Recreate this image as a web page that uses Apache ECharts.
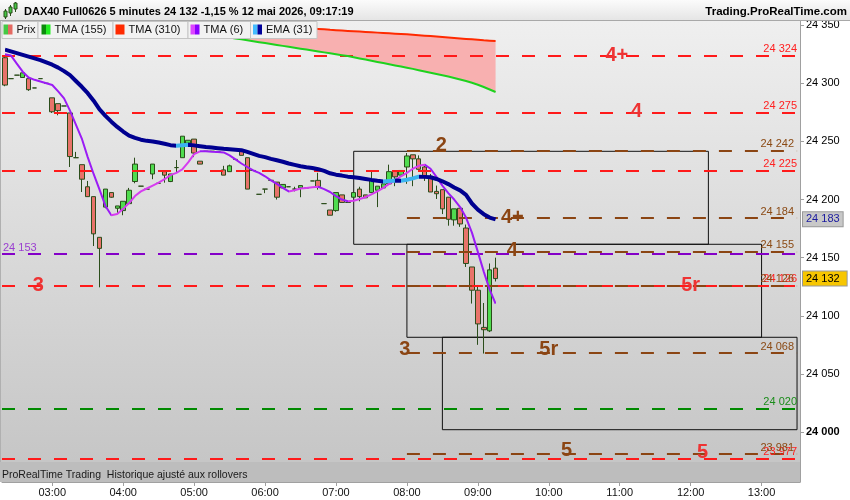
<!DOCTYPE html>
<html><head><meta charset="utf-8">
<script src="https://cdn.jsdelivr.net/npm/echarts@6/dist/echarts.min.js"></script>
<style>html,body{margin:0;padding:0;background:#fff}#c{width:850px;height:500px}</style>
</head><body><div id="c"></div>
<script>
// ---------- data ----------
const opens = [24322,24304,24307,24305,24304,24296,24304,24300,24287.5,24282.5,
24280.5,24274.5,24236,24230,24211,24202.5,24167.5,24193.5,24206,24192.5,
24190.5,24196.5,24215.5,24211.5,24209,24222,24214,24224,24215.5,24227.5,
24236,24248.5,24252,24233,24241.5,24241.5,24241,24225.5,24224,24234.5,
24242,24236,24225,24204.5,24209,24216.5,24215,24210,24211,24209,
24210,24210,24216,24216.5,24196.5,24191,24190.5,24204,24197.5,24202,
24209,24204,24206,24208,24210,24213.5,24224.5,24221,24228,24238.5,
24235,24228,24220,24207,24208.5,24202,24182.5,24192.5,24175.5,24142,
24122,24090,24087,24141];
const closes = [24298.5,24304,24307,24309,24294.5,24296,24304,24300,24275.5,24276.5,
24280.5,24237,24236,24217.5,24202.5,24170.5,24158,24209,24202,24194.5,
24198.5,24208,24230.5,24211.5,24209,24230.5,24214,24221,24222,24227.5,
24254.5,24251,24240,24230.5,24241.5,24241.5,24241,24221,24229,24234.5,
24238,24209,24225,24204.5,24209,24216.5,24202,24213,24211,24209,
24212,24210,24216,24211,24196.5,24186.5,24206,24197.5,24197.5,24206,
24202.5,24201.5,24216.5,24211.5,24213.5,24224,24219.5,24225,24237.5,24235,
24226,24219,24206.5,24205,24192,24183,24192,24179,24145,24122,
24093,24088,24139.5,24132];
const lows = [24297.5,24304,24307,24305,24293.5,24296,24304,24300,24274.5,24272.5,
24280.5,24228,24236,24206.5,24202.5,24160,24124.5,24192.5,24201.5,24188.5,
24186.5,24196.5,24214,24211.5,24209,24217.5,24214,24214.5,24215,24223,
24236,24248,24236.5,24230.5,24241.5,24241.5,24241,24221,24224,24234.5,
24238,24209,24225,24204.5,24205.5,24216.5,24200,24210,24211,24207,
24202,24210,24216,24208.5,24196.5,24186.5,24189.5,24197.5,24197.5,24202,
24198.5,24201.5,24206,24193.5,24210,24213.5,24211.5,24221,24213.5,24211.5,
24226,24216,24206.5,24200.5,24187.5,24177.5,24177.5,24176.5,24142,24110.5,
24075,24067.5,24086,24129.5];
const highs = [24324,24304,24307,24309,24304,24296,24304,24300,24287.5,24282.5,
24280.5,24274.5,24241,24230,24216,24202.5,24167.5,24209,24206,24194.5,
24198.5,24210,24236,24211.5,24209,24230.5,24214,24224,24222,24234,
24254.5,24251,24252,24233,24241.5,24241.5,24241,24229,24230,24234.5,
24242.5,24236,24225,24204.5,24209,24216.5,24215,24213,24211,24211,
24212,24210,24216,24223,24196.5,24191,24206,24204,24197.5,24206,
24211,24204,24224,24211.5,24213.5,24230,24224.5,24225,24240,24238.5,
24238,24230,24222,24212,24208.5,24202,24192,24192.5,24178.5,24142,
24126.5,24111,24145,24150];
const tma6 = [24325,24324,24317,24310,24305,24303,24301.5,24300,24298.5,24293,
24287,24276.5,24264.5,24252.5,24236.5,24222,24208.5,24194.5,24186.5,24187.5,
24192,24197,24203,24207,24209.5,24212,24214.5,24217.5,24221,24223,
24226,24232,24239,24241.5,24241.5,24241.2,24241,24240.5,24238,24234.5,
24231,24228,24225,24223,24220,24216.5,24213.5,24210,24207,24208,
24209.5,24210,24210.5,24211,24209,24206.5,24203,24200,24198.5,24199,
24200.5,24202,24204.5,24207,24210,24213.5,24216.5,24220,24223,24226.5,
24229,24230,24226.5,24219.5,24212,24205.5,24200,24193.5,24184.5,24171.5,
24155,24138,24122.5,24110.5];
const ema31 = [24329,24327.5,24326,24324.5,24323,24321.5,24320,24318,24316,24313.5,
24310.5,24307,24302,24297,24291.5,24285,24277.5,24272,24267,24262.5,
24258.5,24255,24253,24251.5,24250.5,24250,24249,24248,24246.8,24246.3,
24246.8,24247.1,24246.6,24245.9,24245.2,24244.7,24244.2,24243.7,24243.3,24242.9,
24242.5,24241,24239.3,24237.6,24236.5,24235,24233.8,24232.5,24231,24229.8,
24228.6,24227.8,24227.1,24226.1,24224.6,24222.6,24221.4,24220.6,24219.7,24219.2,
24218.5,24217.7,24216.9,24216.2,24215.6,24216,24216.4,24216.2,24217,24218.2,
24219.7,24219.5,24219.2,24217.7,24215.7,24213.3,24210.4,24207.9,24204,24196.6,
24191.3,24187.4,24184.5,24183];
// long averages: visible from 04:50 (index 30) onward
const longStart = 30;
const tma155 = [24345.5,24344.8,24344.1,24343.4,24342.6,24341.8,24341,24340.2,24339.4,24338.6,
24337.8,24337,24336.2,24335.4,24334.6,24333.8,24333,24332.2,24331.4,24330.6,
24329.8,24329,24328.2,24327.4,24326.6,24325.8,24325,24324.2,24323.4,24322.4,
24321.4,24320.4,24319.4,24318.4,24317.4,24316.4,24315.4,24314.4,24313.4,24312.4,
24311.3,24310.2,24309.1,24308,24306.9,24305.8,24304.6,24303.3,24302,24300.5,
24298.8,24296.8,24294.7,24292.5];
const tma310 = [24354,24353.7,24353.4,24353.1,24352.8,24352.5,24352.2,24351.9,24351.6,24351.3,
24351,24350.7,24350.4,24350.1,24349.8,24349.5,24349.2,24348.9,24348.6,24348.3,
24348,24347.6,24347.2,24346.8,24346.4,24346,24345.7,24345.4,24345.1,24344.8,
24344.5,24344.2,24343.9,24343.6,24343.3,24343,24342.7,24342.4,24342.1,24341.8,
24341.4,24341,24340.6,24340.2,24339.8,24339.4,24339,24338.6,24338.2,24337.8,
24337.4,24337,24336.7,24336.4];

const yTicks = [24000,24050,24100,24150,24200,24250,24300,24350];
const hourLabels = ['03:00','04:00','05:00','06:00','07:00','08:00','09:00','10:00','11:00','12:00','13:00'];
const redLevels = [24324,24275,24225,24126,23977];
const brownLevels = [24242,24184,24155,24126,24068,23981];
const brownFrom = '08:00', brownTo = '13:30';
const purpleLevel = 24153;
const greenLevel = 24020;
const lastPrice = 24132;
const lastEma = 24183;
const zones = [['07:15','12:15',24241.5,24161.5],['08:00','13:00',24161.5,24081.5],['08:30','13:30',24081.5,24002]];
const annotations = [
 ['4+','10:55',24324,'red'],['4','11:15',24275,'red'],['3','02:50',24126,'red'],['5r','12:00',24126,'red'],['5','12:10',23977,'red'],
 ['2','08:30',24242,'brown'],['4+','09:30',24184,'brown'],['4','09:30',24155,'brown'],['3','08:00',24068,'brown'],['5r','10:00',24068,'brown'],['5','10:15',23981,'brown']
];
const titleText = 'DAX40 Full0626 5 minutes 24 132 -1,15 % 12 mai 2026, 09:17:19';
const siteText = 'Trading.ProRealTime.com';
const footText = 'ProRealTime Trading  Historique ajusté aux rollovers';
const legendItems = [['Prix','#45c845','#e46a62'],['TMA (155)','#0b8a0b','#22ee22'],['TMA (310)','#ff2a00','#ff2a00'],['TMA (6)','#dd44ff','#8a00ff'],['EMA (31)','#44bbff','#000099']];

// ---------- styles ----------
const FONT = "'Liberation Sans', Arial, sans-serif";
const annOffsets = [[3,0],[-1,-1],[-2,0],[0,0],[0,-6],[-1,-5],[-1,-1],[-1,-1],[-2,-3],[0,-3],[0,-4]];
const legendBoxes = [[1.5,36],[37.5,75],[112.5,75],[187.5,62.5],[250,66.5]];
const legendIconX = [2,4,3,3,3];
const COL = {red:'#ff1a1a', redTxt:'#ee3333', brown:'#8b4513', purple:'#8400c8', green:'#008a00'};

// ---------- build ----------
const categories = [];
for (let m = 2*60+20; m <= 13*60+30; m += 5)
  categories.push(String(Math.floor(m/60)).padStart(2,'0') + ':' + String(m%60).padStart(2,'0'));
const fmt = v => String(v).replace(/\B(?=(\d{3})+(?!\d))/g, ' ');
const candleData = opens.map((o,i) => [o, closes[i], lows[i], highs[i]]);
const pre = Array(longStart).fill('-');
const g155 = pre.concat(tma155);
const r310 = pre.concat(tma310);
const fillDiff = r310.map((v,i) => v === '-' ? '-' : +(v - g155[i]).toFixed(2));

function dirPieces(arr, upC, downC) {
  const p = [];
  for (let i = 0; i < arr.length - 1; i++) {
    const c = arr[i+1] > arr[i] ? upC : downC;
    const last = p[p.length-1];
    if (last && last.color === c) last.lt = i + 1;
    else p.push({gte: i, lt: i + 1, color: c});
  }
  const l = p[p.length-1]; l.lte = l.lt; delete l.lt;
  return p;
}

const dash = [13, 13];
const lineLbl = (txt, color, pos) => ({show:true, position:pos, formatter:txt, color:color, fontSize:11, fontFamily:FONT, distance:[3,1]});
const levelData = [];
redLevels.forEach(v => levelData.push({yAxis:v, lineStyle:{color:COL.red, type:dash, width:2}, label:lineLbl(fmt(v), '#ff2020', 'insideEndTop')}));
brownLevels.forEach(v => levelData.push([
  {coord:[brownFrom, v], lineStyle:{color:COL.brown, type:dash, width:2}, label:lineLbl(fmt(v), '#8b4a14', 'insideEndTop')},
  {coord:[brownTo, v]}]));
levelData.push({yAxis:purpleLevel, lineStyle:{color:COL.purple, type:dash, width:2}, label:Object.assign(lineLbl(fmt(purpleLevel), '#9a3fd0', 'insideStartTop'), {distance:[1,1]})});
levelData.push({yAxis:greenLevel, lineStyle:{color:COL.green, type:dash, width:2}, label:lineLbl(fmt(greenLevel), '#1a8c1a', 'insideEndTop')});

const tag = (v, bg, fg, padR) => ({yAxis:v, lineStyle:{color:'rgba(0,0,0,0)', width:1, type:'solid'},
  label:{show:true, position:'end', formatter:fmt(v), color:fg, backgroundColor:bg, borderColor:'#999', borderWidth:1, padding:[2,padR,1,3], fontSize:11, fontFamily:FONT, distance:3}});

const graphic = [
  {type:'rect', z:-10, silent:true, shape:{x:0,y:21,width:800,height:461},
   style:{fill:{type:'linear',x:0,y:0,x2:0,y2:1,colorStops:[{offset:0,color:'#efefef'},{offset:1,color:'#c4c4c4'}]}}},
  {type:'line', z:-9, silent:true, shape:{x1:0.5,y1:21,x2:0.5,y2:482}, style:{stroke:'#b0b0b0', lineWidth:1}},
  {type:'rect', z:100, silent:true, shape:{x:0,y:0,width:850,height:21},
   style:{fill:{type:'linear',x:0,y:0,x2:0,y2:1,colorStops:[{offset:0,color:'#fbfbfb'},{offset:1,color:'#e4e4e4'}]}}},
  {type:'line', z:101, silent:true, shape:{x1:0,y1:20.5,x2:850,y2:20.5}, style:{stroke:'#a8a8a8', lineWidth:1}},
  {type:'text', z:101, silent:true, left:24, top:6, style:{text:titleText, font:'bold 11px ' + FONT, fill:'#000'}},
  {type:'text', z:101, silent:true, right:3, top:6, style:{text:siteText, font:'bold 11.5px ' + FONT, fill:'#000'}},
  // small candle icon
  {type:'line', z:101, silent:true, shape:{x1:5.5,y1:9,x2:5.5,y2:19}, style:{stroke:'#2b4d1b'}},
  {type:'rect', z:102, silent:true, shape:{x:4,y:11,width:3,height:6}, style:{fill:'#45c845', stroke:'#2b4d1b'}},
  {type:'line', z:101, silent:true, shape:{x1:10.5,y1:5,x2:10.5,y2:16}, style:{stroke:'#2b4d1b'}},
  {type:'rect', z:102, silent:true, shape:{x:9,y:7,width:3,height:6}, style:{fill:'#45c845', stroke:'#2b4d1b'}},
  {type:'line', z:101, silent:true, shape:{x1:15.5,y1:2,x2:15.5,y2:12}, style:{stroke:'#2b4d1b'}},
  {type:'rect', z:102, silent:true, shape:{x:14,y:3,width:3,height:6}, style:{fill:'#45c845', stroke:'#2b4d1b'}},
  // footer strip
  {type:'rect', z:100, silent:true, shape:{x:0,y:462,width:800,height:20}, style:{fill:'#bdbdbd'}},
  {type:'text', z:101, silent:true, left:2, top:470, style:{text:footText, font:'10.5px ' + FONT, fill:'#1a1a1a'}}
];
legendItems.forEach((it, k) => {
  const [bx, bw] = legendBoxes[k];
  const ix = bx + legendIconX[k];
  graphic.push({type:'rect', z:110, silent:true, shape:{x:bx+0.5,y:21.5,width:bw,height:17}, style:{fill:'#f2f2f2', stroke:'#c4c4c4', lineWidth:1}});
  graphic.push({type:'rect', z:111, silent:true, shape:{x:ix,y:24.5,width:4.5,height:10}, style:{fill:it[1]}});
  graphic.push({type:'rect', z:111, silent:true, shape:{x:ix+4.5,y:24.5,width:4.5,height:10}, style:{fill:it[2]}});
  graphic.push({type:'text', z:111, silent:true, left:ix+13, top:24.5, style:{text:it[0], font:'11px ' + FONT, fill:'#111'}});
});

const option = {
  animation: false,
  backgroundColor: '#ffffff',
  grid: {left:2, right:50, top:21, bottom:18, containLabel:false},
  xAxis: {
    type:'category', data:categories, boundaryGap:true,
    axisLine:{show:true, lineStyle:{color:'#a0a0a0'}},
    axisTick:{show:true, alignWithLabel:true, length:4, interval:(i,v)=>hourLabels.includes(v), lineStyle:{color:'#a0a0a0'}},
    axisLabel:{interval:(i,v)=>hourLabels.includes(v), color:'#111', fontSize:11, fontFamily:FONT, margin:5},
    splitLine:{show:false}
  },
  yAxis: {
    type:'value', position:'right', min:23957, max:24353.6, scale:true,
    axisLine:{show:true, lineStyle:{color:'#a0a0a0'}},
    axisTick:{show:true, length:4, customValues:yTicks, lineStyle:{color:'#a0a0a0'}},
    axisLabel:{customValues:yTicks, color:'#000', fontSize:11, fontFamily:FONT, margin:6,
      formatter:v => v % 1000 === 0 ? '{b|' + fmt(v) + '}' : fmt(v),
      rich:{b:{fontWeight:'bold', fontSize:11, fontFamily:FONT, color:'#000'}}},
    splitLine:{show:false}
  },
  visualMap: [
    {type:'piecewise', show:false, dimension:0, seriesIndex:5, pieces:dirPieces(tma6, '#d63cf0', '#9b1cf5')},
    {type:'piecewise', show:false, dimension:0, seriesIndex:6, pieces:dirPieces(ema31, '#3cb4f0', '#000090')}
  ],
  graphic: graphic,
  series: [
    {type:'line', data:[], z:1, silent:true,
     markLine:{silent:true, symbol:['none','none'], animation:false, data:levelData},
     markArea:{silent:true, itemStyle:{color:'rgba(0,0,0,0)', borderColor:'#111', borderWidth:1},
       data:zones.map(z => [{coord:[z[0], z[2]]}, {coord:[z[1], z[3]]}])}},
    {type:'candlestick', data:candleData, z:3, barWidth:5,
     itemStyle:{color:'#4fdc4f', color0:'#e8736a', borderColor:'#2b4d1b', borderColor0:'#2b4d1b', borderColorDoji:'#2b4d1b', borderWidth:1}},
    {type:'line', data:g155, stack:'band', z:5, symbol:'none', lineStyle:{color:'#1ed21e', width:2}},
    {type:'line', data:fillDiff, stack:'band', z:3, symbol:'none', lineStyle:{width:0, opacity:0}, areaStyle:{color:'#f8b0b0', opacity:1}},
    {type:'line', data:r310, z:5, symbol:'none', lineStyle:{color:'#ff2a00', width:2}},
    {type:'line', data:tma6, z:6, symbol:'none', lineStyle:{width:2}},
    {type:'line', data:ema31, z:7, symbol:'none', lineStyle:{width:4}},
    {type:'line', data:[], z:8, silent:true,
     markLine:{silent:true, symbol:['none','none'], animation:false, data:[tag(lastPrice,'#f7c600','#000',7), tag(lastEma,'#c8c8c8','#1a1aa0',3)]}},
    {type:'line', data:[], z:9, silent:true,
     markPoint:{silent:true, symbol:'rect', symbolSize:1, itemStyle:{color:'rgba(0,0,0,0)'},
       data:annotations.map((a,k) => ({name:a[0], coord:[a[1], a[2]],
         label:{show:true, position:'inside', formatter:'{b}', offset:annOffsets[k], color:a[3]==='red'?COL.redTxt:COL.brown, fontSize:20, fontWeight:'bold', fontFamily:FONT}}))}}
  ]
};
const chart = echarts.init(document.getElementById('c'), null, {renderer:'canvas'});
chart.setOption(option);
</script></body></html>
